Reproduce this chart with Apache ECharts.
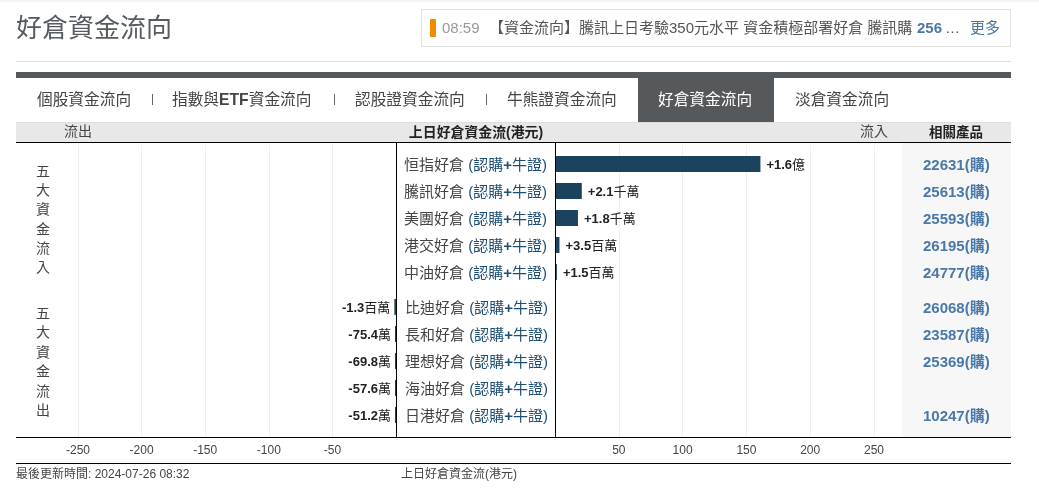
<!DOCTYPE html>
<html><head><meta charset="utf-8">
<style>html,body{margin:0;padding:0;background:#fff}#c{width:1039px;height:492px}</style>
<script src="https://cdn.jsdelivr.net/npm/echarts@6/dist/echarts.min.js"></script>
</head><body><div id="c"></div>
<script>
const FF = '"Liberation Sans","Noto Sans CJK TC",sans-serif';
const inflowNames = ['恒指好倉','騰訊好倉','美團好倉','港交好倉','中油好倉'];
const inflowValues = [161,21,18,3.5,1.5];
const inflowLabels = ['+1.6億','+2.1千萬','+1.8千萬','+3.5百萬','+1.5百萬'];
const inflowProducts = ['22631(購)','25613(購)','25593(購)','26195(購)','24777(購)'];
const outflowNames = ['比迪好倉','長和好倉','理想好倉','海油好倉','日港好倉'];
const outflowValues = [-1.3,-0.754,-0.698,-0.576,-0.512];
const outflowLabels = ['-1.3百萬','-75.4萬','-69.8萬','-57.6萬','-51.2萬'];
const outflowProducts = ['26068(購)','23587(購)','25369(購)','','10247(購)'];
const tabs = ['個股資金流向','指數與{e|ETF}資金流向','認股證資金流向','牛熊證資金流向','好倉資金流向','淡倉資金流向'];

const DARK='#55595c', BAR='#1c435e', BLUE='#4a78a8';
const rect=(x,y,w,h,fill,z=0)=>({type:'rect',z,silent:true,shape:{x,y,width:w,height:h},style:{fill}});
const txt=(text,x,y,size,fill,align='left',weight='normal',extra={})=>({type:'text',z:6,silent:true,style:Object.assign({text,x,y:y+1.5,fill,align,verticalAlign:'middle',font:weight+' '+size+'px '+FF},extra)});

const tabX=[37,172,355,507,658,795];
const graphic=[
  rect(0,0,1039,2,'#f3f3f3'),
  txt('好倉資金流向',16,28,26,'#555b60'),
  {type:'rect',z:0,silent:true,shape:{x:421.5,y:9.5,width:589,height:37},style:{fill:'#fff',stroke:'#e2e2e2',lineWidth:1}},
  rect(430,19,6,18,'#f08c00',1),
  txt('08:59',442,27.5,15,'#999999'),
  txt('【資金流向】騰訊上日考驗350元水平 資金積極部署好倉 騰訊購',489,27.5,15,'#555555'),
  txt('256',917,27.5,15,BLUE,'left','bold'),
  txt('…',945,27.5,15,'#555555'),
  txt('更多',970,27,15,BLUE),
  rect(16,61,995,1,'#dddddd'),
  rect(16,72,995,6,DARK),
  rect(638,78,136,44,DARK),
  rect(16,122,995,20,'#e8e8e8'),
  rect(16,122,995,1,'#dddddd',1),
  rect(902,123,109,314,'#f7f7f7',-1),
  rect(16,142,995,1,'#000000',3),
  rect(16,437,995,1,'#000000',3),
  rect(16,463,995,1,'#000000',3),
  rect(396,142,1,295,'#000000',3),
  rect(555,142,1,295,'#000000',3),
  txt('流出',78,131,14,'#444444','center'),
  txt('流入',874,131,14,'#444444','center'),
  txt('上日好倉資金流(港元)',476,132,13.9,'#222222','center','bold'),
  txt('相關產品',956,132,13.5,'#222222','center','bold'),
  txt('五\n大\n資\n金\n流\n入',43,218.5,14,'#444444','center','normal',{lineHeight:19.3}),
  txt('五\n大\n資\n金\n流\n出',43,361,14,'#444444','center','normal',{lineHeight:19.5}),
  txt('最後更新時間: 2024-07-26 08:32',16,473,12,'#444444'),
  txt('上日好倉資金流(港元)',459,473,12,'#444444','center'),
];
tabs.forEach((t,i)=>{
  const fill=i===4?'#ffffff':'#444444';
  graphic.push(txt(t,tabX[i],99,15.7,fill,'left','normal',t.includes('{')?{rich:{e:{font:'bold 15.7px '+FF,fill}}}:{}));
});
[152,334,486].forEach(x=>graphic.push(rect(x,94,1,11,'#666666')));

const pad=[3,0,0,0];
const nameLabel=n=>`{a|${n} }{b|(認購}{p|+}{b|牛證)}`;
const nameRich={a:{fontFamily:FF,fontSize:15,color:'#444444',padding:pad},b:{fontFamily:FF,fontSize:15,color:'#1f4e73',padding:pad},p:{fontFamily:FF,fontSize:15,color:'#1f4e73',fontWeight:'bold',padding:pad}};
const barLabel=(labels)=>p=>{const m=labels[p.dataIndex].match(/^([+\-\d.]+)(.*)$/);return `{n|${m[1]}}{u|${m[2]}}`;};
const barRich={n:{fontFamily:FF,fontSize:13,fontWeight:'bold',color:'#222222',padding:pad},u:{fontFamily:FF,fontSize:13,color:'#222222',padding:pad}};
const prodAxis=(grid,data,offset)=>({type:'category',gridIndex:grid,data,inverse:true,position:'right',offset,z:5,axisLine:{show:false},axisTick:{show:false},splitLine:{show:false},
  axisLabel:{margin:0,align:'left',formatter:v=>v?`{p|${v}}`:'',rich:{p:{fontFamily:FF,fontSize:15,fontWeight:'bold',color:BLUE,padding:pad}}}});
const hiddenX=(grid,min,max)=>({type:'value',gridIndex:grid,min,max,show:false});
const fullX=(grid,min,max)=>({type:'value',gridIndex:grid,min,max,interval:50,axisLine:{show:false},axisTick:{show:false},
  splitLine:{show:true,lineStyle:{color:'#eeeeee',width:1}},
  axisLabel:{margin:8,fontFamily:FF,fontSize:12,color:'#444444',formatter:v=>v===0?'':String(v)}});

const option={
  animation:false,
  graphic:{elements:graphic},
  grid:[
    {left:78,width:318,top:145,height:292},
    {left:555,width:319,top:145,height:292},
    {left:555,width:319,top:150.5,height:135},
    {left:78,width:318,top:293.5,height:135},
  ],
  xAxis:[fullX(0,-250,0),fullX(1,0,250),hiddenX(2,0,250),hiddenX(3,-250,0)],
  yAxis:[
    {type:'value',gridIndex:0,show:false},
    {type:'value',gridIndex:1,show:false},
    {type:'category',gridIndex:2,data:inflowNames,inverse:true,position:'left',z:5,axisLine:{show:false},axisTick:{show:false},
      axisLabel:{margin:8,formatter:nameLabel,rich:nameRich}},
    prodAxis(2,inflowProducts,49),
    {type:'category',gridIndex:3,data:outflowNames,inverse:true,position:'right',z:5,axisLine:{show:false},axisTick:{show:false},
      axisLabel:{margin:9,formatter:nameLabel,rich:nameRich,align:'left'}},
    prodAxis(3,outflowProducts,527),
  ],
  series:[
    {type:'bar',xAxisIndex:2,yAxisIndex:2,data:inflowValues,barWidth:16,itemStyle:{color:BAR},
      label:{show:true,position:'right',distance:6,formatter:barLabel(inflowLabels),rich:barRich}},
    {type:'bar',xAxisIndex:3,yAxisIndex:4,data:outflowValues,barWidth:16,barMinHeight:1,itemStyle:{color:BAR},
      label:{show:true,position:'left',distance:4,formatter:barLabel(outflowLabels),rich:barRich}},
  ]
};
echarts.init(document.getElementById('c')).setOption(option);
</script></body></html>
